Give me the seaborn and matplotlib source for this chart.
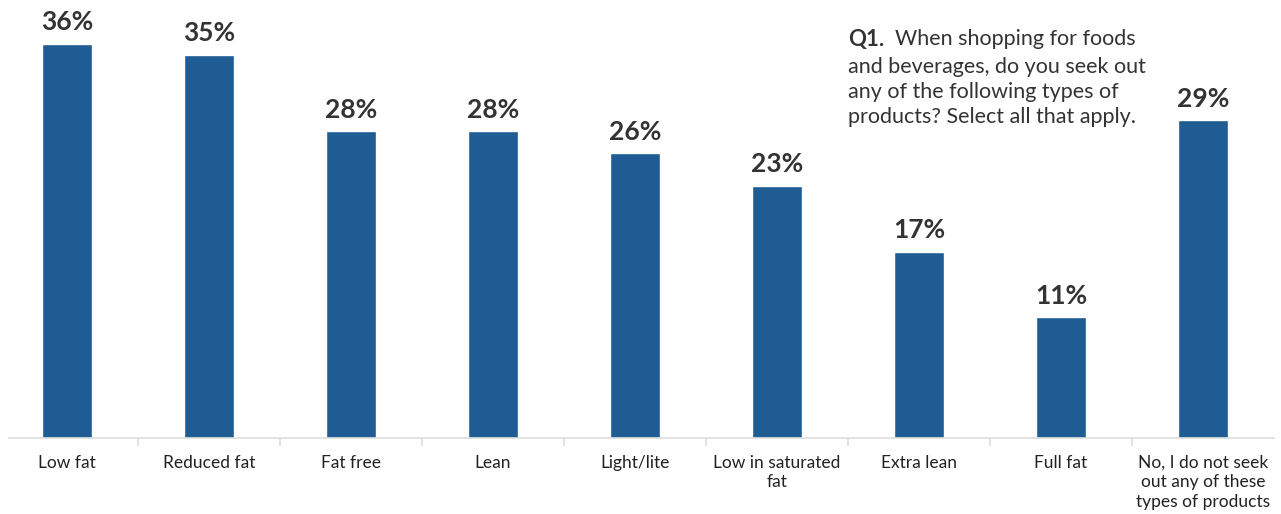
import numpy as np
import pandas as pd
import seaborn as sns
import matplotlib.pyplot as plt
from matplotlib.ticker import FixedLocator

# survey data
categories = ['Low fat', 'Reduced fat', 'Fat free', 'Lean', 'Light/lite',
              'Low in saturated\nfat', 'Extra lean', 'Full fat',
              'No, I do not seek\nout any of these\ntypes of products']
values = [36, 35, 28, 28, 26, 23, 17, 11, 29]

df = pd.DataFrame({'type': categories, 'pct': values})

sns.set_style('white')
plt.rcParams['font.family'] = ['Lato', 'DejaVu Sans']

fig = plt.figure(figsize=(12.81, 5.14), dpi=100)
ax = fig.add_axes([0, 0.148, 1, 0.852])

sns.barplot(data=df, x='type', y='pct', color='#1f5c94', width=0.35,
            saturation=1, ax=ax)

ax.bar_label(ax.containers[0], fmt='%d%%', padding=7, fontsize=19,
             fontweight='bold', color='#333333')

ax.set_xlim(-0.472, 8.549)
ax.set_ylim(0, 40)
ax.set_xlabel('')
ax.set_ylabel('')
ax.set_yticks([])

for s in ['top', 'right', 'left']:
    ax.spines[s].set_visible(False)
ax.spines['bottom'].set_color('#dddddd')
ax.spines['bottom'].set_linewidth(1.2)
ax.spines['bottom'].set_bounds(-0.41, 8.5)

ax.tick_params(axis='x', which='major', length=0, pad=12, labelsize=12.5,
               labelcolor='#222222')
ax.xaxis.set_minor_locator(FixedLocator(np.arange(0.5, 8, 1)))
ax.tick_params(axis='x', which='minor', bottom=True, length=6,
               color='#dddddd', width=1.2)
for lab in ax.get_xticklabels():
    lab.set_linespacing(1.3)

# question text, top right
ax.text(0.662, 0.944, 'Q1.', transform=fig.transFigure, fontsize=16,
        fontweight='bold', color='#333333', va='top', ha='left')
ax.text(0.699, 0.944, 'When shopping for foods', transform=fig.transFigure,
        fontsize=15.5, color='#333333', va='top', ha='left')
ax.text(0.662, 0.89,
        'and beverages, do you seek out\nany of the following types of\nproducts? Select all that apply.',
        transform=fig.transFigure, fontsize=15.5, color='#333333', va='top',
        ha='left', linespacing=1.32)

plt.savefig('out.png', dpi=100)
